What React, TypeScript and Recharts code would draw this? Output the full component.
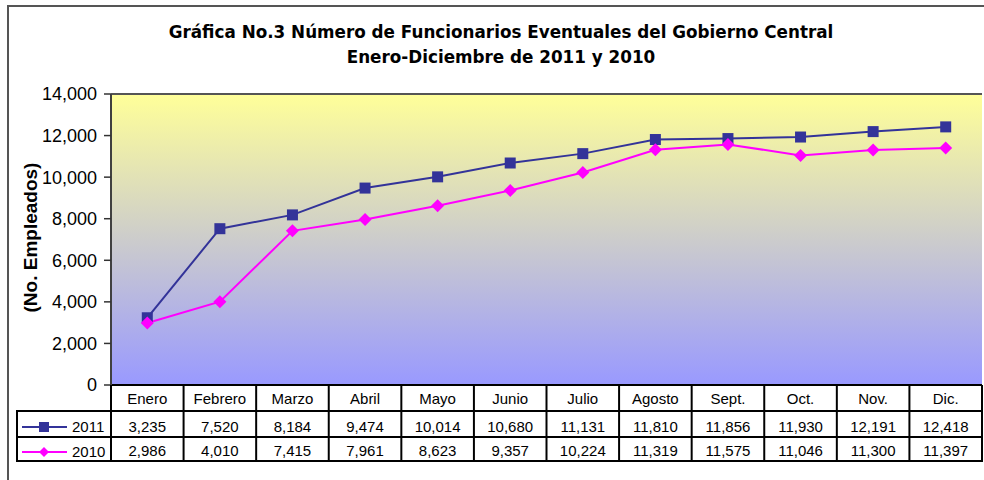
import React from 'react';
import { LineChart, Line, XAxis, YAxis, CartesianGrid, ReferenceLine } from 'recharts';

const months = ['Enero', 'Febrero', 'Marzo', 'Abril', 'Mayo', 'Junio', 'Julio', 'Agosto', 'Sept.', 'Oct.', 'Nov.', 'Dic.'];
const values2011 = [3235, 7520, 8184, 9474, 10014, 10680, 11131, 11810, 11856, 11930, 12191, 12418];
const values2010 = [2986, 4010, 7415, 7961, 8623, 9357, 10224, 11319, 11575, 11046, 11300, 11397];
const yTicks = [0, 2000, 4000, 6000, 8000, 10000, 12000, 14000];
const seriesNames = ['2011', '2010'];
const titleLines = ['Gráfica No.3 Número de Funcionarios Eventuales del Gobierno Central', 'Enero-Diciembre de 2011 y 2010'];
const yLabel = '(No. Empleados)';

const data = months.map((m, i) => ({ month: m, v2011: values2011[i], v2010: values2010[i] }));

const W = 984;
const H = 480;
const PLOT_LEFT = 111;
const PLOT_RIGHT = 982;
const PLOT_TOP = 94;
const PLOT_BOTTOM = 385;
const LEG_LEFT = 17;
const BAND = (PLOT_RIGHT - PLOT_LEFT) / months.length;
const C2011 = '#333399';
const C2010 = '#FF00FF';
const TABLE_FONT = '"Liberation Sans", Arial, sans-serif';
const fmt = (v: number) => v.toLocaleString('en-US');

const Square = (props: any) => {
  const { cx, cy, index } = props;
  if (cx == null || cy == null) return null;
  const s = 11;
  return <rect key={`sq-${index}`} x={cx - s / 2} y={cy - s / 2} width={s} height={s} fill={C2011} />;
};

const Diamond = (props: any) => {
  const { cx, cy, index } = props;
  if (cx == null || cy == null) return null;
  const r = 6.5;
  return (
    <polygon
      key={`dm-${index}`}
      points={`${cx},${cy - r} ${cx + r},${cy} ${cx},${cy + r} ${cx - r},${cy}`}
      fill={C2010}
    />
  );
};

const TableTick = (props: any) => {
  const { x, y, payload, index } = props;
  const x0 = x - BAND / 2;
  const x1 = x + BAND / 2;
  const top = y;
  const r1 = top + 26;
  const r2 = top + 52;
  const bottom = top + 76;
  const ln = { stroke: '#000', strokeWidth: 2 };
  const txt = { fontFamily: TABLE_FONT, fontSize: 15, fill: '#000', textAnchor: 'middle' as const };
  const i = index as number;
  return (
    <g>
      <line x1={x1} y1={top} x2={x1} y2={bottom} {...ln} />
      {i === 0 && <line x1={x0} y1={top} x2={x0} y2={bottom} {...ln} />}
      <line x1={x0 - 1} y1={r1} x2={x1 + 1} y2={r1} {...ln} />
      <line x1={x0 - 1} y1={r2} x2={x1 + 1} y2={r2} {...ln} />
      <line x1={x0 - 1} y1={bottom} x2={x1 + 1} y2={bottom} {...ln} />
      <text x={x} y={top + 18.5} {...txt}>{payload.value}</text>
      <text x={x} y={top + 46.5} {...txt}>{fmt(values2011[i])}</text>
      <text x={x} y={top + 70.5} {...txt}>{fmt(values2010[i])}</text>
      {i === 0 && (
        <g>
          <line x1={LEG_LEFT} y1={r1} x2={x0} y2={r1} {...ln} />
          <line x1={LEG_LEFT} y1={r2} x2={x0} y2={r2} {...ln} />
          <line x1={LEG_LEFT} y1={bottom} x2={x0} y2={bottom} {...ln} />
          <line x1={LEG_LEFT} y1={r1 - 1} x2={LEG_LEFT} y2={bottom + 1} {...ln} />
          <line x1={22} y1={r1 + 16} x2={67} y2={r1 + 16} stroke={C2011} strokeWidth={2} />
          <rect x={39} y={r1 + 11} width={10} height={10} fill={C2011} />
          <text x={72} y={r1 + 21} fontFamily={TABLE_FONT} fontSize={15} fill="#000">{seriesNames[0]}</text>
          <line x1={22} y1={r2 + 15} x2={67} y2={r2 + 15} stroke={C2010} strokeWidth={2} />
          <polygon points={`44,${r2 + 10} 49,${r2 + 15} 44,${r2 + 20} 39,${r2 + 15}`} fill={C2010} />
          <text x={72} y={r2 + 20} fontFamily={TABLE_FONT} fontSize={15} fill="#000">{seriesNames[1]}</text>
        </g>
      )}
    </g>
  );
};

const YLabel = (props: any) => {
  const vb = props.viewBox || { x: 0, y: PLOT_TOP, width: PLOT_LEFT, height: PLOT_BOTTOM - PLOT_TOP };
  const cx = vb.x + 30;
  const cy = vb.y + vb.height / 2 - 2;
  return (
    <text
      x={cx}
      y={cy}
      transform={`rotate(-90 ${cx} ${cy})`}
      textAnchor="middle"
      dominantBaseline="central"
      fontFamily={TABLE_FONT}
      fontWeight="bold"
      fontSize={19}
      fill="#000"
    >
      {yLabel}
    </text>
  );
};

export default function App() {
  return (
    <div style={{ position: 'absolute', left: 0, top: 0, width: W, height: H, background: '#fff', overflow: 'hidden' }}>
      <div
        style={{
          position: 'absolute',
          left: 7,
          top: 5,
          width: W,
          height: H,
          borderLeft: '2px solid #555',
          borderTop: '2px solid #555',
        }}
      />
      {titleLines.map((t, i) => (
        <div
          key={i}
          style={{
            position: 'absolute',
            left: 9,
            top: 22 + i * 25,
            width: W,
            height: 20,
            lineHeight: '20px',
            textAlign: 'center',
            fontFamily: '"DejaVu Sans", Verdana, sans-serif',
            fontWeight: 'bold',
            fontSize: 16.8,
            color: '#000',
            whiteSpace: 'nowrap',
          }}
        >
          {t}
        </div>
      ))}
      <div style={{ position: 'absolute', left: 0, top: 0 }}>
        <LineChart width={W} height={H} data={data} margin={{ top: PLOT_TOP, right: W - PLOT_RIGHT, left: 0, bottom: 0 }}>
          <defs>
            <linearGradient id="plotBg" x1="0" y1="0" x2="0" y2="1">
              <stop offset="0%" stopColor="#FFFF99" />
              <stop offset="100%" stopColor="#9999FF" />
            </linearGradient>
          </defs>
          <CartesianGrid horizontal={false} vertical={false} fill="url(#plotBg)" fillOpacity={1} />
          <XAxis
            dataKey="month"
            height={H - PLOT_BOTTOM}
            interval={0}
            padding={{ left: BAND / 2, right: BAND / 2 }}
            tickLine={false}
            tickSize={0}
            tickMargin={0}
            axisLine={{ stroke: '#000', strokeWidth: 2 }}
            tick={<TableTick />}
          />
          <YAxis
            width={PLOT_LEFT}
            domain={[0, 14000]}
            ticks={yTicks}
            interval={0}
            tickFormatter={fmt}
            tickSize={7}
            tickMargin={7}
            tickLine={{ stroke: '#333', strokeWidth: 1.5 }}
            axisLine={{ stroke: '#404040', strokeWidth: 2 }}
            tick={{ fill: '#000', fontSize: 18, fontFamily: TABLE_FONT }}
            label={<YLabel />}
          />
          <YAxis
            yAxisId="right"
            orientation="right"
            width={0}
            domain={[0, 14000]}
            tick={false}
            tickLine={false}
            axisLine={{ stroke: '#555', strokeWidth: 2 }}
          />
          <ReferenceLine y={14000} stroke="#555" strokeWidth={2} />
          <Line
            type="linear"
            dataKey="v2011"
            name={seriesNames[0]}
            stroke={C2011}
            strokeWidth={2}
            dot={Square}
            activeDot={false}
            isAnimationActive={false}
          />
          <Line
            type="linear"
            dataKey="v2010"
            name={seriesNames[1]}
            stroke={C2010}
            strokeWidth={2}
            dot={Diamond}
            activeDot={false}
            isAnimationActive={false}
          />
        </LineChart>
      </div>
    </div>
  );
}
